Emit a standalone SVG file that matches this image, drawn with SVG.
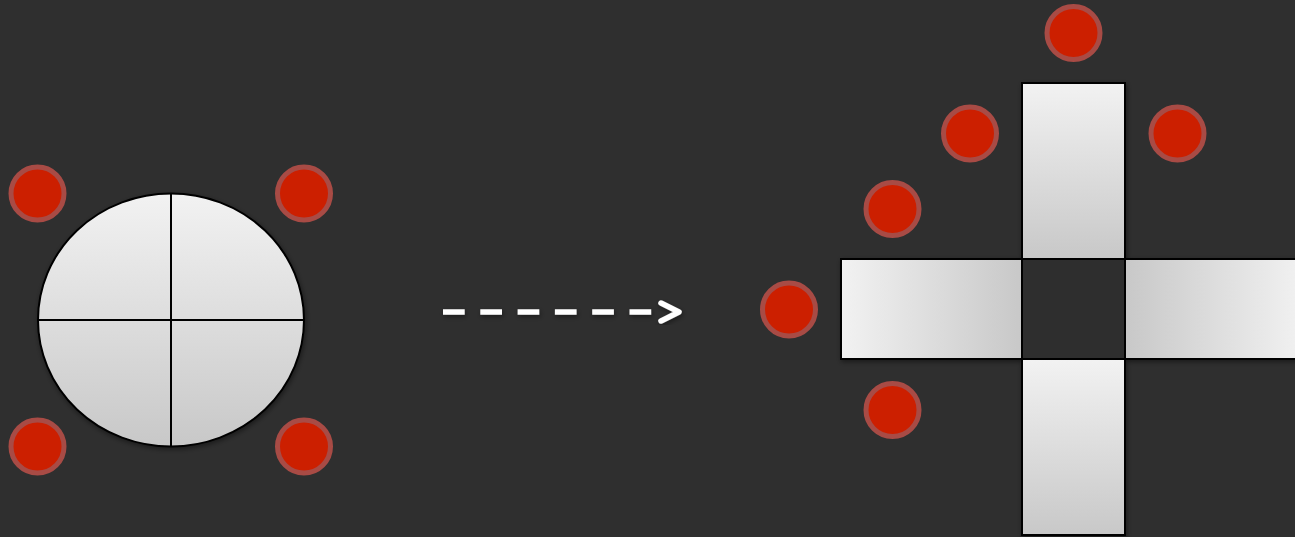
<svg xmlns="http://www.w3.org/2000/svg" width="1295" height="537" viewBox="0 0 1295 537">
  <defs>
    <linearGradient id="gV" x1="0" y1="0" x2="0" y2="1">
      <stop offset="0" stop-color="#f2f2f2"/>
      <stop offset="1" stop-color="#c8c8c8"/>
    </linearGradient>
    <linearGradient id="gL" x1="0" y1="0" x2="1" y2="0">
      <stop offset="0" stop-color="#f2f2f2"/>
      <stop offset="1" stop-color="#c8c8c8"/>
    </linearGradient>
    <linearGradient id="gR" x1="0" y1="0" x2="1" y2="0">
      <stop offset="0" stop-color="#c8c8c8"/>
      <stop offset="1" stop-color="#f2f2f2"/>
    </linearGradient>
    <filter id="sh" x="-20%" y="-20%" width="140%" height="140%">
      <feDropShadow dx="1" dy="2" stdDeviation="2.5" flood-color="#000" flood-opacity="0.45"/>
    </filter>
    <style>
      .dot { fill: #cc1f00; stroke: #a84b45; stroke-width: 5; }
      .shape { stroke: #000; stroke-width: 2; }
      .ln { stroke: #000; stroke-width: 2; fill: none; }
      .arr { stroke: #fff; stroke-width: 5.5; fill: none; }
    </style>
  </defs>
  <rect width="1295" height="537" fill="#2f2f2f"/>

  <g id="disc" filter="url(#sh)">
    <ellipse class="shape" cx="171" cy="320" rx="133" ry="126.5" fill="url(#gV)"/>
    <line class="ln" x1="171" y1="193.5" x2="171" y2="446.5"/>
    <line class="ln" x1="38" y1="320" x2="304" y2="320"/>
  </g>

  <g id="dots-left">
    <circle class="dot" cx="37.5" cy="193.5" r="26.5"/>
    <circle class="dot" cx="304" cy="193.5" r="26.5"/>
    <circle class="dot" cx="37.5" cy="446.5" r="26.5"/>
    <circle class="dot" cx="304" cy="446.5" r="26.5"/>
  </g>

  <g id="connectors" filter="url(#sh)">
    <line class="arr" x1="443" y1="312" x2="652" y2="312" stroke-dasharray="21.7 15.6"/>
    <polyline class="arr" points="661,303 679,312 661,321" stroke-width="6.5" stroke-linecap="round" stroke-linejoin="round"/>
  </g>

  <g id="cross" filter="url(#sh)">
    <rect class="shape" x="1022" y="83" width="103" height="176" fill="url(#gV)"/>
    <rect class="shape" x="841" y="259" width="181" height="100" fill="url(#gL)"/>
    <rect class="shape" x="1125" y="259" width="180" height="100" fill="url(#gR)"/>
    <rect class="shape" x="1022" y="359" width="103" height="176" fill="url(#gV)"/>
    <rect class="shape" x="1022" y="259" width="103" height="100" fill="#2f2f2f"/>
  </g>

  <g id="dots-right">
    <circle class="dot" cx="1073.5" cy="33" r="26.5"/>
    <circle class="dot" cx="970" cy="133.5" r="26.5"/>
    <circle class="dot" cx="1177.5" cy="133.5" r="26.5"/>
    <circle class="dot" cx="892.5" cy="209" r="26.5"/>
    <circle class="dot" cx="789" cy="309.5" r="26.5"/>
    <circle class="dot" cx="892.5" cy="410" r="26.5"/>
  </g>
</svg>
